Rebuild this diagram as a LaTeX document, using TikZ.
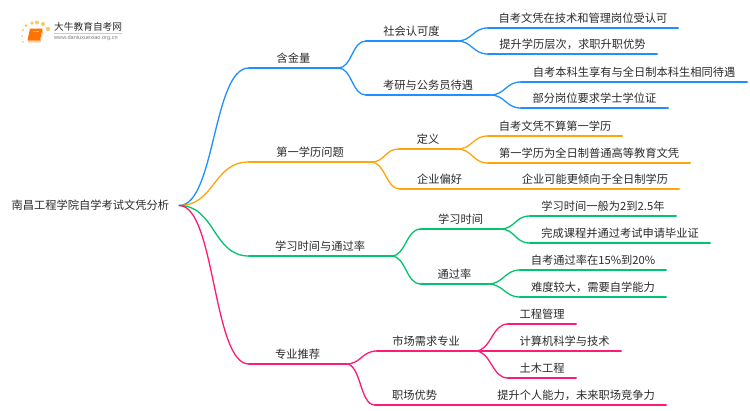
\documentclass[tikz,border=0pt]{standalone}
\usepackage{fontspec}
\setmainfont{Noto Sans CJK SC}
\newfontfamily\latinf{Liberation Sans}
\definecolor{cblue}{HTML}{1E90FF}
\definecolor{corange}{HTML}{FFA50A}
\definecolor{cgreen}{HTML}{00C46E}
\definecolor{cpink}{HTML}{FF1A75}
\definecolor{ctext}{HTML}{2B2B2B}
\definecolor{cdot}{HTML}{FBC868}
\tikzset{
  lab/.style={anchor=south,inner xsep=0pt,inner ysep=0pt,text height=12pt,text depth=5.5pt,font=\fontsize{11.25pt}{13pt}\selectfont,text=ctext},
  conn/.style={line width=1.3pt,line cap=round,draw=#1},
}
\newcommand{\lf}[5]{\node[lab,minimum width={#3-#2}] (#1) at ({(#2+#3)/2},#4) {#5};}
\newcommand{\rl}[2]{\draw[conn=#2] (#1.south west) -- (#1.south east);}
\newcommand{\cv}[4]{\draw[conn=#4] (#1) .. controls +(#3,0) and +(-#3,0) .. (#2);}
\begin{document}
\begin{tikzpicture}[x=1pt,y=-1pt]
\useasboundingbox (0,0) rectangle (750,410);
\fill[white] (0,0) rectangle (750,410);
% logo
\foreach \x/\y/\s in {48/29/2.2,43/24/2,37/22.5/2,32/23/1.8,26/25.5/1.5,23/30/1.2,22/36/1,23/42/.8}{
  \fill[cdot] (\x,\y) circle (\s);
}
\fill[orange!90!red] (30,28.5) -- (42.5,28.5) -- (40,40.5) -- (27.5,40.5) -- cycle;
\draw[orange!55,line width=.9pt] (28,41.8) -- (40,41.8) -- (43,30);
\fill[yellow!60!orange] (33,30.5) rectangle (39,32);
\node[inner sep=0pt,anchor=west,text=ctext,font=\fontsize{9.7pt}{11pt}\selectfont] (brand) at (54,27) {大牛教育自考网};
\draw[gray!40,line width=.5pt] (54,33.5) -- (122,33.5);
\node[inner sep=0pt,anchor=west,text=gray,font=\latinf\fontsize{5.6pt}{7pt}\selectfont] (url) at (54,38.5) {www.daniuxuexiao.org.cn};
% root
\node[lab,minimum width=177pt,anchor=center,text depth=3pt,text height=11pt] (root) at (90.5,205.5) {南昌工程学院自学考试文凭分析};
% blue
\lf{a}{249}{338}{68}{含金量}
\lf{a1}{366}{457}{41}{社会认可度}
\lf{a2}{366}{490}{95}{考研与公务员待遇}
\lf{a11}{488}{678}{28}{自考文凭在技术和管理岗位受认可}
\lf{a12}{488}{657}{54}{提升学历层次，求职升职优势}
\lf{a21}{521}{747}{82}{自考本科生享有与全日制本科生相同待遇}
\lf{a22}{521}{668}{108}{部分岗位要求学士学位证}
% orange
\lf{b}{249}{371}{162}{第一学历问题}
\lf{b1}{399}{457}{149}{定义}
\lf{b2}{400}{479}{189}{企业偏好}
\lf{b11}{488}{622}{136}{自考文凭不算第一学历}
\lf{b12}{488}{690}{163}{第一学历为全日制普通高等教育文凭}
\lf{b21}{511}{679}{189}{企业可能更倾向于全日制学历}
% green
\lf{c}{249}{391}{256}{学习时间与通过率}
\lf{c1}{421}{500}{229}{学习时间}
\lf{c2}{421}{488}{284}{通过率}
\lf{c11}{530}{676}{216}{学习时间一般为2到2.5年}
\lf{c12}{530}{710}{243}{完成课程并通过考试申请毕业证}
\lf{c21}{520}{666}{270}{自考通过率在15\%到20\%}
\lf{c22}{520}{666}{297}{难度较大，需要自学能力}
% pink
\lf{d}{249}{346}{364}{专业推荐}
\lf{d1}{377}{475}{351}{市场需求专业}
\lf{d2}{375}{454}{405}{职场优势}
\lf{d11}{508}{576}{324}{工程管理}
\lf{d12}{508}{621}{351}{计算机科学与技术}
\lf{d13}{508}{576}{378}{土木工程}
\lf{d21}{486}{666}{405}{提升个人能力，未来职场竞争力}
% rules
\foreach \n in {a,a1,a2,a11,a12,a21,a22}{\rl{\n}{cblue}}
\foreach \n in {b,b1,b2,b11,b12,b21}{\rl{\n}{corange}}
\foreach \n in {c,c1,c2,c11,c12,c21,c22}{\rl{\n}{cgreen}}
\foreach \n in {d,d1,d2,d11,d12,d13,d21}{\rl{\n}{cpink}}
% connectors
\cv{root.east}{a.south west}{36}{cblue}
\cv{a.south east}{a1.south west}{14}{cblue}
\cv{a.south east}{a2.south west}{14}{cblue}
\cv{a1.south east}{a11.south west}{15}{cblue}
\cv{a1.south east}{a12.south west}{15}{cblue}
\cv{a2.south east}{a21.south west}{15}{cblue}
\cv{a2.south east}{a22.south west}{15}{cblue}
\cv{root.east}{b.south west}{36}{corange}
\cv{b.south east}{b1.south west}{14}{corange}
\cv{b.south east}{b2.south west}{14}{corange}
\cv{b1.south east}{b11.south west}{15}{corange}
\cv{b1.south east}{b12.south west}{15}{corange}
\draw[conn=corange] (b2.south east) -- (b21.south west);
\cv{root.east}{c.south west}{36}{cgreen}
\cv{c.south east}{c1.south west}{15}{cgreen}
\cv{c.south east}{c2.south west}{15}{cgreen}
\cv{c1.south east}{c11.south west}{15}{cgreen}
\cv{c1.south east}{c12.south west}{15}{cgreen}
\cv{c2.south east}{c21.south west}{15}{cgreen}
\cv{c2.south east}{c22.south west}{15}{cgreen}
\cv{root.east}{d.south west}{36}{cpink}
\cv{d.south east}{d1.south west}{15}{cpink}
\cv{d.south east}{d2.south west}{15}{cpink}
\cv{d1.south east}{d11.south west}{16}{cpink}
\cv{d1.south east}{d12.south west}{16}{cpink}
\cv{d1.south east}{d13.south west}{16}{cpink}
\draw[conn=cpink] (d2.south east) -- (d21.south west);
\end{tikzpicture}
\end{document}
